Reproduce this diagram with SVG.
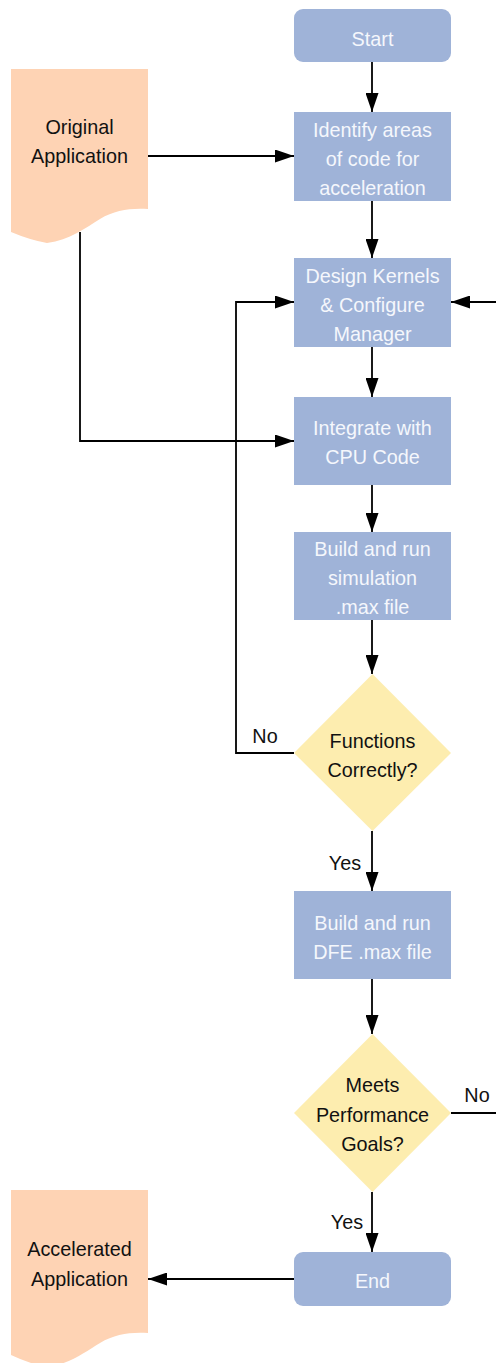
<svg xmlns="http://www.w3.org/2000/svg" width="496" height="1363" viewBox="0 0 496 1363">
  <style>
    .proc { fill: #9fb3d8; }
    .doc { fill: #fed3b4; }
    .dec { fill: #fdedaf; }
    .lbl { font-family: "Liberation Sans", Arial, Helvetica, sans-serif; font-size: 19.8px; text-anchor: middle; }
    .light { fill: #f5f7fc; }
    .dark { fill: #111111; }
    .edge { fill: none; stroke: #000000; stroke-width: 1.8; }
  </style>
  <defs>
    <marker id="arrow" markerUnits="userSpaceOnUse" markerWidth="19" markerHeight="13" refX="19" refY="6.5" orient="auto">
      <path d="M0,0 L19,6.5 L0,13 Z" fill="#000000"/>
    </marker>
  </defs>
  <rect width="496" height="1363" fill="#ffffff"/>

  <!-- connectors -->
  <g id="connectors">
    <path class="edge" d="M372,62 V112" marker-end="url(#arrow)"/>
    <path class="edge" d="M148,156 H294" marker-end="url(#arrow)"/>
    <path class="edge" d="M372,201 V258" marker-end="url(#arrow)"/>
    <path class="edge" d="M372,347 V397" marker-end="url(#arrow)"/>
    <path class="edge" d="M80,232 V441 H294" marker-end="url(#arrow)"/>
    <path class="edge" d="M372,485 V532" marker-end="url(#arrow)"/>
    <path class="edge" d="M372,620 V674" marker-end="url(#arrow)"/>
    <path class="edge" d="M294,753 H236 V302 H294" marker-end="url(#arrow)"/>
    <path class="edge" d="M372,831 V891" marker-end="url(#arrow)"/>
    <path class="edge" d="M372,979 V1034" marker-end="url(#arrow)"/>
    <path class="edge" d="M451,1113 H502 V302 H451" marker-end="url(#arrow)"/>
    <path class="edge" d="M372,1192 V1252" marker-end="url(#arrow)"/>
    <path class="edge" d="M294,1279 H148" marker-end="url(#arrow)"/>
    <text class="lbl dark" x="265" y="742.5">No</text>
    <text class="lbl dark" x="345" y="870">Yes</text>
    <text class="lbl dark" x="477" y="1101.5">No</text>
    <text class="lbl dark" x="347" y="1229">Yes</text>
  </g>

  <g id="start">
    <rect class="proc" x="294" y="9" width="157" height="53" rx="9"/>
    <text class="lbl light" x="372.5" y="45.5">Start</text>
  </g>

  <g id="original-application">
    <path class="doc" d="M11,69 H148 V209 C130,208 115,210 100,219 C85,228 70,240 47,243 Q30,240 11,232 Z"/>
    <text class="lbl dark" x="79.5" y="134">Original</text>
    <text class="lbl dark" x="79.5" y="163">Application</text>
  </g>

  <g id="identify">
    <rect class="proc" x="294" y="112" width="157" height="89"/>
    <text class="lbl light" x="372.5" y="137">Identify areas</text>
    <text class="lbl light" x="372.5" y="166">of code for</text>
    <text class="lbl light" x="372.5" y="195">acceleration</text>
  </g>

  <g id="design">
    <rect class="proc" x="294" y="258" width="157" height="89"/>
    <text class="lbl light" x="372.5" y="282.5">Design Kernels</text>
    <text class="lbl light" x="372.5" y="311.5">&amp; Configure</text>
    <text class="lbl light" x="372.5" y="340.5">Manager</text>
  </g>

  <g id="integrate">
    <rect class="proc" x="294" y="397" width="157" height="88"/>
    <text class="lbl light" x="372.5" y="435">Integrate with</text>
    <text class="lbl light" x="372.5" y="464">CPU Code</text>
  </g>

  <g id="build-sim">
    <rect class="proc" x="294" y="532" width="157" height="88"/>
    <text class="lbl light" x="372.5" y="556">Build and run</text>
    <text class="lbl light" x="372.5" y="585">simulation</text>
    <text class="lbl light" x="372.5" y="614">.max file</text>
  </g>

  <g id="functions-correctly">
    <path class="dec" d="M372.5,674 L451,753 L372.5,831 L294,753 Z"/>
    <text class="lbl dark" x="372.5" y="747.5">Functions</text>
    <text class="lbl dark" x="372.5" y="776.5">Correctly?</text>
  </g>

  <g id="build-dfe">
    <rect class="proc" x="294" y="891" width="157" height="88"/>
    <text class="lbl light" x="372.5" y="930">Build and run</text>
    <text class="lbl light" x="372.5" y="959">DFE .max file</text>
  </g>

  <g id="meets-goals">
    <path class="dec" d="M372.5,1034 L451,1113 L372.5,1192 L294,1113 Z"/>
    <text class="lbl dark" x="372.5" y="1092">Meets</text>
    <text class="lbl dark" x="372.5" y="1121.5">Performance</text>
    <text class="lbl dark" x="372.5" y="1151">Goals?</text>
  </g>

  <g id="end">
    <rect class="proc" x="294" y="1252" width="157" height="54" rx="9"/>
    <text class="lbl light" x="372.5" y="1288">End</text>
  </g>

  <g id="accelerated-application">
    <path class="doc" d="M11,1190 H148 V1333 C130,1332 115,1334 100,1343 C85,1352 70,1364 47,1367 Q30,1364 11,1355 Z"/>
    <text class="lbl dark" x="79.5" y="1255.5">Accelerated</text>
    <text class="lbl dark" x="79.5" y="1285.5">Application</text>
  </g>
</svg>
